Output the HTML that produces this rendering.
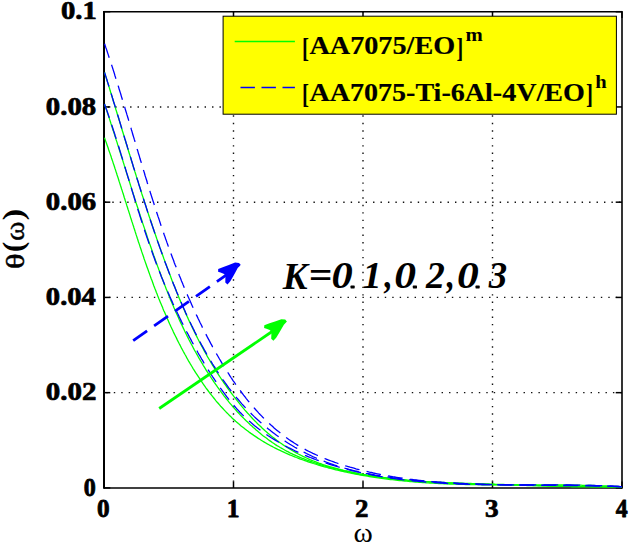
<!DOCTYPE html>
<html><head><meta charset="utf-8"><style>
html,body{margin:0;padding:0;background:#fff;}
svg{display:block;font-family:"Liberation Serif",serif;}
</style></head><body>
<svg width="629" height="545" viewBox="0 0 629 545">
<rect width="629" height="545" fill="#fff"/>
<g stroke="#111" stroke-width="1.4" stroke-dasharray="1.4 6.05"><line x1="233.50" y1="487.90" x2="233.50" y2="11.70" stroke-dashoffset="1.35"/><line x1="363.00" y1="487.90" x2="363.00" y2="11.70" stroke-dashoffset="1.35"/><line x1="492.50" y1="487.90" x2="492.50" y2="11.70" stroke-dashoffset="1.35"/><line x1="104.00" y1="392.66" x2="622.00" y2="392.66" stroke-dashoffset="5.10"/><line x1="104.00" y1="297.42" x2="622.00" y2="297.42" stroke-dashoffset="2.30"/><line x1="104.00" y1="202.18" x2="622.00" y2="202.18" stroke-dashoffset="6.60"/><line x1="104.00" y1="106.94" x2="622.00" y2="106.94" stroke-dashoffset="3.70"/></g>
<g stroke="#000"><line x1="104.0" y1="10.899999999999999" x2="104.0" y2="488.7" stroke-width="2"/><line x1="622.0" y1="10.899999999999999" x2="622.0" y2="488.7" stroke-width="1.6"/><line x1="104.0" y1="11.7" x2="622.0" y2="11.7" stroke-width="1.5"/><line x1="104.0" y1="487.9" x2="622.0" y2="487.9" stroke-width="1.5"/><line x1="104.00" y1="487.9" x2="104.00" y2="481.59999999999997" stroke-width="1.5"/><line x1="104.00" y1="11.7" x2="104.00" y2="18.0" stroke-width="1.5"/><line x1="233.50" y1="487.9" x2="233.50" y2="481.59999999999997" stroke-width="1.5"/><line x1="233.50" y1="11.7" x2="233.50" y2="18.0" stroke-width="1.5"/><line x1="363.00" y1="487.9" x2="363.00" y2="481.59999999999997" stroke-width="1.5"/><line x1="363.00" y1="11.7" x2="363.00" y2="18.0" stroke-width="1.5"/><line x1="492.50" y1="487.9" x2="492.50" y2="481.59999999999997" stroke-width="1.5"/><line x1="492.50" y1="11.7" x2="492.50" y2="18.0" stroke-width="1.5"/><line x1="622.00" y1="487.9" x2="622.00" y2="481.59999999999997" stroke-width="1.5"/><line x1="622.00" y1="11.7" x2="622.00" y2="18.0" stroke-width="1.5"/><line x1="104.0" y1="487.90" x2="110.3" y2="487.90" stroke-width="1.5"/><line x1="622.0" y1="487.90" x2="615.7" y2="487.90" stroke-width="1.5"/><line x1="104.0" y1="392.66" x2="110.3" y2="392.66" stroke-width="1.5"/><line x1="622.0" y1="392.66" x2="615.7" y2="392.66" stroke-width="1.5"/><line x1="104.0" y1="297.42" x2="110.3" y2="297.42" stroke-width="1.5"/><line x1="622.0" y1="297.42" x2="615.7" y2="297.42" stroke-width="1.5"/><line x1="104.0" y1="202.18" x2="110.3" y2="202.18" stroke-width="1.5"/><line x1="622.0" y1="202.18" x2="615.7" y2="202.18" stroke-width="1.5"/><line x1="104.0" y1="106.94" x2="110.3" y2="106.94" stroke-width="1.5"/><line x1="622.0" y1="106.94" x2="615.7" y2="106.94" stroke-width="1.5"/><line x1="104.0" y1="11.70" x2="110.3" y2="11.70" stroke-width="1.5"/><line x1="622.0" y1="11.70" x2="615.7" y2="11.70" stroke-width="1.5"/></g>
<g fill="none" stroke-width="1.3"><path d="M104.5,137.7 L105.1,139.4 L105.7,141.1 L106.3,142.8 L106.9,144.5 L107.5,146.2 L108.1,147.8 L108.6,149.5 L109.2,151.2 L109.8,152.9 L110.4,154.6 L111.0,156.3 L111.5,158.0 L112.1,159.7 L112.7,161.4 L113.2,163.1 L113.8,164.8 L114.4,166.5 L114.9,168.2 L115.5,169.9 L116.0,171.6 L116.6,173.3 L117.1,175.0 L117.7,176.7 L118.3,178.5 L118.8,180.2 L119.3,181.9 L119.9,183.6 L120.4,185.3 L121.0,187.0 L121.5,188.7 L122.1,190.4 L122.6,192.1 L123.2,193.8 L123.7,195.5 L124.2,197.2 L124.8,199.0 L125.3,200.7 L125.9,202.4 L126.4,204.1 L126.9,205.8 L127.5,207.5 L128.0,209.2 L128.6,210.9 L129.1,212.6 L129.7,214.4 L130.2,216.1 L130.7,217.8 L131.3,219.5 L131.8,221.2 L132.4,222.9 L132.9,224.6 L133.5,226.3 L134.0,228.0 L134.6,229.7 L135.1,231.4 L135.7,233.2 L136.2,234.9 L136.8,236.6 L137.3,238.3 L137.9,240.0 L138.4,241.7 L139.0,243.4 L139.6,245.1 L140.1,246.8 L140.7,248.5 L141.3,250.2 L141.8,251.9 L142.4,253.6 L143.0,255.3 L143.6,257.0 L144.1,258.7 L144.7,260.4 L145.3,262.1 L145.9,263.8 L146.5,265.5 L147.1,267.2 L147.7,268.8 L148.3,270.5 L148.9,272.2 L149.5,273.9 L150.1,275.6 L150.7,277.3 L151.3,279.0 L152.0,280.6 L152.6,282.3 L153.2,284.0 L153.8,285.7 L154.5,287.4 L155.1,289.0 L155.8,290.7 L156.4,292.4 L157.1,294.0 L157.7,295.7 L158.4,297.4 L159.0,299.0 L159.7,300.7 L160.4,302.4 L161.1,304.0 L161.8,305.7 L162.5,307.3 L163.1,309.0 L163.8,310.7 L164.6,312.3 L165.3,314.0 L166.0,315.6 L166.7,317.2 L167.4,318.9 L168.2,320.5 L168.9,322.2 L169.6,323.8 L170.4,325.4 L171.1,327.1 L171.9,328.7 L172.7,330.3 L173.4,332.0 L174.2,333.6 L175.0,335.2 L175.8,336.8 L176.6,338.4 L177.4,340.1 L178.2,341.7 L179.0,343.3 L179.9,344.9 L180.7,346.5 L181.5,348.1 L182.4,349.7 L183.2,351.3 L184.1,352.9 L185.0,354.5 L185.9,356.0 L186.7,357.6 L187.6,359.2 L188.5,360.8 L189.4,362.3 L190.3,363.9 L191.3,365.5 L192.2,367.0 L193.1,368.6 L194.1,370.1 L195.0,371.6 L196.0,373.2 L197.0,374.7 L198.0,376.2 L199.0,377.7 L200.0,379.2 L201.0,380.7 L202.0,382.2 L203.0,383.7 L204.0,385.1 L205.1,386.6 L206.1,388.1 L207.2,389.5 L208.3,391.0 L209.3,392.4 L210.4,393.8 L211.5,395.2 L212.7,396.6 L213.8,398.0 L214.9,399.4 L216.0,400.8 L217.2,402.2 L218.4,403.5 L219.5,404.8 L220.7,406.2 L221.9,407.5 L223.1,408.8 L224.3,410.1 L225.5,411.4 L226.8,412.7 L228.0,413.9 L229.3,415.2 L230.6,416.4 L231.8,417.7 L233.1,418.9 L234.4,420.1 L235.7,421.3 L237.1,422.4 L238.4,423.6 L239.8,424.7 L241.1,425.9 L242.5,427.0 L243.9,428.1 L245.3,429.2 L246.7,430.3 L248.1,431.3 L249.5,432.4 L250.9,433.4 L252.4,434.4 L253.8,435.4 L255.3,436.4 L256.8,437.4 L258.2,438.4 L259.7,439.3 L261.2,440.3 L262.8,441.2 L264.3,442.1 L265.8,443.0 L267.3,443.9 L268.9,444.7 L270.4,445.6 L272.0,446.4 L273.6,447.3 L275.2,448.1 L276.8,448.9 L278.3,449.7 L280.0,450.4 L281.6,451.2 L283.2,451.9 L284.8,452.7 L286.4,453.4 L288.1,454.1 L289.7,454.8 L291.4,455.5 L293.0,456.2 L294.7,456.8 L296.4,457.5 L298.0,458.1 L299.7,458.8 L301.4,459.4 L303.1,460.0 L304.8,460.6 L306.5,461.2 L308.2,461.8 L309.9,462.4 L311.6,462.9 L313.3,463.5 L315.0,464.0 L316.7,464.5 L318.5,465.1 L320.2,465.6 L321.9,466.1 L323.7,466.6 L325.4,467.0 L327.1,467.5 L328.9,468.0 L330.6,468.4 L332.4,468.9 L334.1,469.3 L335.9,469.8 L337.6,470.2 L339.4,470.6 L341.1,471.0 L342.9,471.4 L344.6,471.8 L346.4,472.2 L348.2,472.6 L349.9,472.9 L351.7,473.3 L353.4,473.6 L355.2,474.0 L357.0,474.3 L358.7,474.7 L360.5,475.0 L362.2,475.3 L364.0,475.6 L365.8,475.9 L367.5,476.2 L369.3,476.5 L371.1,476.8 L372.9,477.1 L374.6,477.4 L376.4,477.6 L378.2,477.9 L379.9,478.1 L381.7,478.4 L383.5,478.6 L385.3,478.9 L387.1,479.1 L388.8,479.3 L390.6,479.5 L392.4,479.7 L394.2,479.9 L395.9,480.1 L397.7,480.3 L399.5,480.5 L401.3,480.7 L403.1,480.9 L404.9,481.1 L406.6,481.2 L408.4,481.4 L410.2,481.6 L412.0,481.7 L413.8,481.9 L415.6,482.0 L417.4,482.2 L419.2,482.3 L420.9,482.4 L422.7,482.6 L424.5,482.7 L426.3,482.8 L428.1,482.9 L429.9,483.0 L431.7,483.1 L433.5,483.2 L435.3,483.3 L437.1,483.4 L438.9,483.5 L440.7,483.6 L442.4,483.7 L444.2,483.8 L446.0,483.8 L447.8,483.9 L449.6,484.0 L451.4,484.0 L453.2,484.1 L455.0,484.2 L456.8,484.2 L458.6,484.3 L460.4,484.3 L462.2,484.4 L464.0,484.4 L465.8,484.5 L467.6,484.5 L469.4,484.5 L471.2,484.6 L473.0,484.6 L474.8,484.6 L476.6,484.7 L478.4,484.7 L480.2,484.7 L482.0,484.8 L483.8,484.8 L485.6,484.8 L487.4,484.8 L489.2,484.8 L491.0,484.8 L492.8,484.9 L494.6,484.9 L496.4,484.9 L498.2,484.9 L500.0,484.9 L501.8,484.9 L503.6,484.9 L505.4,484.9 L507.2,484.9 L509.0,484.9 L510.8,484.9 L512.6,484.9 L514.4,484.9 L516.2,484.9 L518.0,484.9 L519.8,484.9 L521.6,484.9 L523.4,484.9 L525.2,484.9 L527.0,484.9 L528.8,484.9 L530.6,484.9 L532.4,484.9 L534.2,484.9 L536.0,484.9 L537.8,484.9 L539.6,484.9 L541.4,484.9 L543.2,484.9 L545.0,484.9 L546.8,484.9 L548.6,484.9 L550.4,484.9 L552.2,484.9 L554.0,485.0 L555.8,485.0 L557.6,485.0 L559.4,485.0 L561.2,485.0 L563.0,485.0 L564.8,485.0 L566.6,485.0 L568.4,485.1 L570.2,485.1 L572.0,485.1 L573.8,485.1 L575.6,485.1 L577.4,485.2 L579.2,485.2 L580.9,485.2 L582.7,485.3 L584.5,485.3 L586.3,485.3 L588.1,485.4 L589.9,485.4 L591.7,485.5 L593.5,485.5 L595.3,485.6 L597.0,485.6 L598.8,485.7 L600.6,485.7 L602.4,485.8 L604.2,485.9 L606.0,485.9 L607.8,486.0 L609.5,486.1 L611.3,486.2 L613.1,486.3 L614.9,486.3 L616.7,486.4 L618.4,486.5 L620.2,486.6 L622.0,486.7" stroke="#00ff00" /><path d="M104.5,104.0 L105.1,105.8 L105.7,107.5 L106.3,109.3 L106.9,111.1 L107.5,112.8 L108.0,114.6 L108.6,116.4 L109.2,118.1 L109.8,119.9 L110.4,121.7 L110.9,123.4 L111.5,125.2 L112.1,127.0 L112.6,128.7 L113.2,130.5 L113.8,132.3 L114.4,134.1 L114.9,135.8 L115.5,137.6 L116.0,139.4 L116.6,141.1 L117.2,142.9 L117.7,144.7 L118.3,146.4 L118.9,148.2 L119.4,150.0 L120.0,151.7 L120.5,153.5 L121.1,155.3 L121.6,157.0 L122.2,158.8 L122.8,160.6 L123.3,162.3 L123.9,164.1 L124.4,165.9 L125.0,167.7 L125.5,169.4 L126.1,171.2 L126.6,173.0 L127.2,174.7 L127.8,176.5 L128.3,178.3 L128.9,180.0 L129.4,181.8 L130.0,183.6 L130.5,185.3 L131.1,187.1 L131.7,188.9 L132.2,190.6 L132.8,192.4 L133.3,194.2 L133.9,195.9 L134.5,197.7 L135.0,199.4 L135.6,201.2 L136.1,203.0 L136.7,204.7 L137.3,206.5 L137.9,208.3 L138.4,210.0 L139.0,211.8 L139.6,213.6 L140.1,215.3 L140.7,217.1 L141.3,218.8 L141.9,220.6 L142.4,222.4 L143.0,224.1 L143.6,225.9 L144.2,227.6 L144.8,229.4 L145.4,231.2 L146.0,232.9 L146.6,234.7 L147.1,236.4 L147.7,238.2 L148.3,239.9 L148.9,241.7 L149.5,243.5 L150.2,245.2 L150.8,247.0 L151.4,248.7 L152.0,250.5 L152.6,252.2 L153.2,254.0 L153.8,255.7 L154.5,257.5 L155.1,259.2 L155.7,261.0 L156.3,262.7 L157.0,264.5 L157.6,266.2 L158.3,268.0 L158.9,269.7 L159.6,271.5 L160.2,273.2 L160.9,275.0 L161.5,276.7 L162.2,278.4 L162.8,280.2 L163.5,281.9 L164.2,283.7 L164.9,285.4 L165.5,287.1 L166.2,288.9 L166.9,290.6 L167.6,292.3 L168.3,294.1 L169.0,295.8 L169.7,297.5 L170.4,299.2 L171.1,300.9 L171.9,302.7 L172.6,304.4 L173.3,306.1 L174.0,307.8 L174.8,309.5 L175.5,311.2 L176.3,312.9 L177.0,314.6 L177.8,316.3 L178.6,318.0 L179.3,319.7 L180.1,321.4 L180.9,323.1 L181.7,324.8 L182.5,326.4 L183.3,328.1 L184.1,329.8 L184.9,331.5 L185.7,333.1 L186.5,334.8 L187.3,336.4 L188.2,338.1 L189.0,339.7 L189.9,341.4 L190.7,343.0 L191.6,344.7 L192.5,346.3 L193.3,347.9 L194.2,349.6 L195.1,351.2 L196.0,352.8 L196.9,354.4 L197.8,356.0 L198.7,357.6 L199.6,359.2 L200.6,360.8 L201.5,362.4 L202.5,364.0 L203.4,365.6 L204.4,367.2 L205.3,368.7 L206.3,370.3 L207.3,371.9 L208.3,373.4 L209.3,375.0 L210.3,376.5 L211.3,378.0 L212.4,379.6 L213.4,381.1 L214.4,382.6 L215.5,384.1 L216.6,385.7 L217.6,387.2 L218.7,388.7 L219.8,390.2 L220.9,391.6 L222.0,393.1 L223.1,394.6 L224.2,396.1 L225.4,397.5 L226.5,399.0 L227.7,400.4 L228.8,401.9 L230.0,403.3 L231.2,404.7 L232.4,406.1 L233.6,407.5 L234.8,408.9 L236.1,410.3 L237.3,411.7 L238.6,413.0 L239.8,414.4 L241.1,415.7 L242.4,417.0 L243.8,418.4 L245.1,419.7 L246.4,421.0 L247.8,422.3 L249.1,423.6 L250.5,424.9 L251.9,426.1 L253.3,427.4 L254.7,428.6 L256.1,429.9 L257.5,431.1 L258.9,432.3 L260.4,433.5 L261.8,434.7 L263.3,435.9 L264.8,437.0 L266.3,438.1 L267.8,439.3 L269.3,440.4 L270.8,441.4 L272.3,442.5 L273.9,443.5 L275.4,444.6 L277.0,445.6 L278.6,446.5 L280.2,447.5 L281.8,448.4 L283.4,449.3 L285.0,450.2 L286.6,451.1 L288.3,451.9 L289.9,452.8 L291.6,453.6 L293.2,454.4 L294.9,455.1 L296.6,455.9 L298.3,456.6 L300.0,457.3 L301.7,458.1 L303.4,458.7 L305.1,459.4 L306.9,460.1 L308.6,460.7 L310.3,461.3 L312.1,461.9 L313.8,462.5 L315.6,463.1 L317.3,463.7 L319.1,464.3 L320.9,464.8 L322.7,465.3 L324.4,465.8 L326.2,466.3 L328.0,466.8 L329.8,467.3 L331.6,467.8 L333.4,468.3 L335.2,468.7 L337.0,469.2 L338.8,469.6 L340.6,470.0 L342.4,470.4 L344.2,470.8 L346.0,471.2 L347.9,471.6 L349.7,472.0 L351.5,472.4 L353.3,472.7 L355.1,473.1 L356.9,473.4 L358.8,473.8 L360.6,474.1 L362.4,474.4 L364.2,474.7 L366.1,475.0 L367.9,475.3 L369.7,475.6 L371.6,475.9 L373.4,476.2 L375.2,476.5 L377.1,476.7 L378.9,477.0 L380.8,477.3 L382.6,477.5 L384.4,477.7 L386.3,478.0 L388.1,478.2 L390.0,478.4 L391.8,478.6 L393.7,478.8 L395.5,479.1 L397.3,479.2 L399.2,479.4 L401.0,479.6 L402.9,479.8 L404.7,480.0 L406.6,480.2 L408.5,480.3 L410.3,480.5 L412.2,480.6 L414.0,480.8 L415.9,480.9 L417.7,481.1 L419.6,481.2 L421.4,481.4 L423.3,481.5 L425.2,481.6 L427.0,481.7 L428.9,481.9 L430.7,482.0 L432.6,482.1 L434.5,482.2 L436.3,482.3 L438.2,482.4 L440.0,482.5 L441.9,482.6 L443.8,482.7 L445.6,482.8 L447.5,482.9 L449.3,483.0 L451.2,483.0 L453.1,483.1 L454.9,483.2 L456.8,483.3 L458.7,483.3 L460.5,483.4 L462.4,483.5 L464.2,483.6 L466.1,483.6 L468.0,483.7 L469.8,483.7 L471.7,483.8 L473.6,483.9 L475.4,483.9 L477.3,484.0 L479.1,484.0 L481.0,484.1 L482.9,484.2 L484.7,484.2 L486.6,484.3 L488.4,484.3 L490.3,484.4 L492.1,484.4 L494.0,484.5 L495.9,484.6 L497.7,484.6 L499.6,484.7 L501.4,484.7 L503.3,484.8 L505.1,484.8 L507.0,484.9 L508.8,484.9 L510.7,485.0 L512.5,485.0 L514.4,485.1 L516.3,485.2 L518.1,485.2 L520.0,485.3 L521.8,485.3 L523.7,485.4 L525.5,485.4 L527.4,485.5 L529.2,485.5 L531.1,485.6 L532.9,485.6 L534.8,485.7 L536.6,485.7 L538.5,485.8 L540.3,485.8 L542.2,485.8 L544.0,485.9 L545.9,485.9 L547.7,486.0 L549.6,486.0 L551.4,486.1 L553.3,486.1 L555.1,486.1 L557.0,486.2 L558.8,486.2 L560.7,486.3 L562.5,486.3 L564.4,486.3 L566.2,486.4 L568.1,486.4 L569.9,486.4 L571.8,486.5 L573.6,486.5 L575.5,486.5 L577.3,486.5 L579.2,486.6 L581.0,486.6 L582.9,486.6 L584.8,486.6 L586.6,486.7 L588.5,486.7 L590.3,486.7 L592.2,486.7 L594.0,486.7 L595.9,486.7 L597.8,486.7 L599.6,486.7 L601.5,486.7 L603.3,486.8 L605.2,486.8 L607.1,486.8 L608.9,486.8 L610.8,486.8 L612.7,486.8 L614.5,486.8 L616.4,486.8 L618.3,486.8 L620.1,486.8 L622.0,486.8" stroke="#00ff00" /><path d="M104.6,72.5 L105.1,74.3 L105.7,76.1 L106.3,78.0 L106.8,79.8 L107.4,81.6 L108.0,83.5 L108.5,85.3 L109.1,87.1 L109.7,89.0 L110.2,90.8 L110.8,92.7 L111.4,94.5 L111.9,96.3 L112.5,98.2 L113.0,100.0 L113.6,101.8 L114.2,103.7 L114.7,105.5 L115.3,107.3 L115.8,109.2 L116.4,111.0 L116.9,112.8 L117.5,114.7 L118.1,116.5 L118.6,118.3 L119.2,120.2 L119.7,122.0 L120.3,123.8 L120.8,125.7 L121.4,127.5 L121.9,129.3 L122.5,131.2 L123.1,133.0 L123.6,134.8 L124.2,136.7 L124.7,138.5 L125.3,140.3 L125.8,142.2 L126.4,144.0 L127.0,145.8 L127.5,147.7 L128.1,149.5 L128.6,151.3 L129.2,153.2 L129.8,155.0 L130.3,156.8 L130.9,158.6 L131.4,160.5 L132.0,162.3 L132.6,164.1 L133.1,166.0 L133.7,167.8 L134.3,169.6 L134.8,171.4 L135.4,173.3 L136.0,175.1 L136.5,176.9 L137.1,178.8 L137.7,180.6 L138.3,182.4 L138.8,184.2 L139.4,186.1 L140.0,187.9 L140.6,189.7 L141.2,191.5 L141.7,193.4 L142.3,195.2 L142.9,197.0 L143.5,198.8 L144.1,200.7 L144.7,202.5 L145.3,204.3 L145.9,206.1 L146.4,207.9 L147.0,209.8 L147.6,211.6 L148.2,213.4 L148.8,215.2 L149.4,217.0 L150.1,218.9 L150.7,220.7 L151.3,222.5 L151.9,224.3 L152.5,226.1 L153.1,228.0 L153.7,229.8 L154.3,231.6 L155.0,233.4 L155.6,235.2 L156.2,237.0 L156.8,238.8 L157.5,240.7 L158.1,242.5 L158.7,244.3 L159.4,246.1 L160.0,247.9 L160.7,249.7 L161.3,251.5 L162.0,253.3 L162.6,255.1 L163.3,256.9 L163.9,258.7 L164.6,260.6 L165.2,262.4 L165.9,264.2 L166.6,266.0 L167.3,267.8 L167.9,269.6 L168.6,271.4 L169.3,273.2 L170.0,275.0 L170.7,276.8 L171.3,278.6 L172.0,280.4 L172.7,282.2 L173.4,283.9 L174.2,285.7 L174.9,287.5 L175.6,289.3 L176.3,291.1 L177.0,292.9 L177.8,294.7 L178.5,296.4 L179.2,298.2 L180.0,300.0 L180.7,301.8 L181.5,303.5 L182.2,305.3 L183.0,307.1 L183.7,308.8 L184.5,310.6 L185.3,312.4 L186.1,314.1 L186.9,315.9 L187.7,317.6 L188.5,319.4 L189.3,321.1 L190.1,322.8 L190.9,324.6 L191.7,326.3 L192.5,328.0 L193.4,329.8 L194.2,331.5 L195.1,333.2 L195.9,334.9 L196.8,336.6 L197.6,338.3 L198.5,340.0 L199.4,341.7 L200.3,343.4 L201.2,345.1 L202.1,346.8 L203.0,348.5 L203.9,350.2 L204.8,351.9 L205.8,353.5 L206.7,355.2 L207.6,356.9 L208.6,358.5 L209.6,360.2 L210.5,361.8 L211.5,363.5 L212.5,365.1 L213.5,366.7 L214.5,368.4 L215.5,370.0 L216.5,371.6 L217.5,373.2 L218.6,374.8 L219.6,376.4 L220.7,378.0 L221.7,379.6 L222.8,381.2 L223.9,382.8 L225.0,384.3 L226.1,385.9 L227.2,387.5 L228.3,389.0 L229.4,390.6 L230.6,392.1 L231.7,393.6 L232.9,395.2 L234.0,396.7 L235.2,398.2 L236.4,399.7 L237.6,401.2 L238.8,402.7 L240.0,404.2 L241.2,405.7 L242.4,407.2 L243.7,408.6 L244.9,410.1 L246.2,411.5 L247.5,413.0 L248.8,414.4 L250.1,415.8 L251.4,417.3 L252.7,418.7 L254.0,420.1 L255.4,421.4 L256.7,422.8 L258.1,424.2 L259.5,425.5 L260.9,426.8 L262.3,428.2 L263.7,429.5 L265.1,430.8 L266.6,432.0 L268.0,433.3 L269.5,434.5 L271.0,435.8 L272.5,437.0 L274.0,438.1 L275.5,439.3 L277.0,440.5 L278.5,441.6 L280.1,442.7 L281.7,443.8 L283.2,444.9 L284.8,446.0 L286.4,447.0 L288.0,448.0 L289.7,449.0 L291.3,450.0 L292.9,451.0 L294.6,451.9 L296.3,452.9 L297.9,453.8 L299.6,454.7 L301.3,455.5 L303.0,456.4 L304.7,457.2 L306.5,458.0 L308.2,458.8 L310.0,459.6 L311.7,460.3 L313.5,461.0 L315.2,461.7 L317.0,462.4 L318.8,463.1 L320.6,463.7 L322.4,464.4 L324.2,465.0 L326.1,465.5 L327.9,466.1 L329.7,466.7 L331.6,467.2 L333.4,467.7 L335.2,468.2 L337.1,468.7 L338.9,469.2 L340.8,469.7 L342.7,470.1 L344.5,470.6 L346.4,471.0 L348.3,471.4 L350.1,471.8 L352.0,472.2 L353.9,472.6 L355.7,473.0 L357.6,473.4 L359.5,473.8 L361.4,474.1 L363.3,474.5 L365.1,474.8 L367.0,475.1 L368.9,475.4 L370.8,475.7 L372.7,476.0 L374.6,476.3 L376.5,476.6 L378.4,476.9 L380.3,477.2 L382.2,477.4 L384.1,477.7 L386.0,477.9 L387.9,478.2 L389.8,478.4 L391.7,478.6 L393.6,478.8 L395.5,479.1 L397.5,479.3 L399.4,479.5 L401.3,479.6 L403.2,479.8 L405.1,480.0 L407.0,480.2 L408.9,480.4 L410.9,480.5 L412.8,480.7 L414.7,480.8 L416.6,481.0 L418.6,481.1 L420.5,481.2 L422.4,481.4 L424.3,481.5 L426.3,481.6 L428.2,481.7 L430.1,481.9 L432.0,482.0 L434.0,482.1 L435.9,482.2 L437.8,482.3 L439.7,482.4 L441.7,482.5 L443.6,482.5 L445.5,482.6 L447.5,482.7 L449.4,482.8 L451.3,482.9 L453.2,482.9 L455.2,483.0 L457.1,483.1 L459.0,483.1 L461.0,483.2 L462.9,483.3 L464.8,483.3 L466.7,483.4 L468.7,483.5 L470.6,483.5 L472.5,483.6 L474.4,483.6 L476.4,483.7 L478.3,483.8 L480.2,483.8 L482.1,483.9 L484.1,483.9 L486.0,484.0 L487.9,484.0 L489.8,484.1 L491.7,484.1 L493.7,484.2 L495.6,484.3 L497.5,484.3 L499.4,484.4 L501.3,484.4 L503.2,484.5 L505.2,484.6 L507.1,484.6 L509.0,484.7 L510.9,484.7 L512.8,484.8 L514.7,484.9 L516.6,484.9 L518.5,485.0 L520.4,485.1 L522.4,485.1 L524.3,485.2 L526.2,485.2 L528.1,485.3 L530.0,485.4 L531.9,485.4 L533.8,485.5 L535.7,485.5 L537.6,485.6 L539.5,485.7 L541.4,485.7 L543.3,485.8 L545.2,485.8 L547.1,485.9 L549.1,485.9 L551.0,486.0 L552.9,486.0 L554.8,486.1 L556.7,486.1 L558.6,486.2 L560.5,486.2 L562.4,486.3 L564.3,486.3 L566.2,486.4 L568.1,486.4 L570.1,486.4 L572.0,486.5 L573.9,486.5 L575.8,486.6 L577.7,486.6 L579.6,486.6 L581.5,486.6 L583.5,486.7 L585.4,486.7 L587.3,486.7 L589.2,486.7 L591.1,486.8 L593.0,486.8 L595.0,486.8 L596.9,486.8 L598.8,486.8 L600.7,486.8 L602.7,486.8 L604.6,486.8 L606.5,486.8 L608.5,486.8 L610.4,486.8 L612.3,486.8 L614.2,486.8 L616.2,486.8 L618.1,486.8 L620.1,486.8 L622.0,486.8" stroke="#00ff00" /><path d="M104.5,104.0 L105.1,105.7 L105.7,107.5 L106.4,109.2 L107.0,110.9 L107.6,112.7 L108.2,114.4 L108.8,116.2 L109.4,117.9 L110.0,119.7 L110.5,121.4 L111.1,123.2 L111.7,124.9 L112.3,126.7 L112.9,128.4 L113.4,130.2 L114.0,131.9 L114.6,133.7 L115.1,135.5 L115.7,137.2 L116.3,139.0 L116.8,140.7 L117.4,142.5 L117.9,144.3 L118.5,146.0 L119.0,147.8 L119.6,149.6 L120.1,151.3 L120.7,153.1 L121.2,154.9 L121.8,156.7 L122.3,158.4 L122.9,160.2 L123.4,162.0 L124.0,163.8 L124.5,165.5 L125.0,167.3 L125.6,169.1 L126.1,170.9 L126.6,172.6 L127.2,174.4 L127.7,176.2 L128.3,178.0 L128.8,179.7 L129.3,181.5 L129.9,183.3 L130.4,185.1 L131.0,186.8 L131.5,188.6 L132.0,190.4 L132.6,192.2 L133.1,193.9 L133.7,195.7 L134.2,197.5 L134.7,199.3 L135.3,201.0 L135.8,202.8 L136.4,204.6 L136.9,206.4 L137.5,208.1 L138.0,209.9 L138.6,211.7 L139.2,213.4 L139.7,215.2 L140.3,217.0 L140.8,218.7 L141.4,220.5 L142.0,222.3 L142.5,224.0 L143.1,225.8 L143.7,227.6 L144.3,229.3 L144.8,231.1 L145.4,232.8 L146.0,234.6 L146.6,236.3 L147.2,238.1 L147.8,239.8 L148.4,241.6 L149.0,243.3 L149.6,245.1 L150.2,246.8 L150.8,248.6 L151.4,250.3 L152.1,252.0 L152.7,253.8 L153.3,255.5 L154.0,257.3 L154.6,259.0 L155.2,260.7 L155.9,262.4 L156.5,264.2 L157.2,265.9 L157.9,267.6 L158.5,269.3 L159.2,271.0 L159.9,272.7 L160.6,274.5 L161.2,276.2 L161.9,277.9 L162.6,279.6 L163.3,281.3 L164.0,283.0 L164.7,284.7 L165.4,286.4 L166.2,288.1 L166.9,289.8 L167.6,291.5 L168.3,293.1 L169.1,294.8 L169.8,296.5 L170.6,298.2 L171.3,299.9 L172.1,301.6 L172.8,303.2 L173.6,304.9 L174.4,306.6 L175.2,308.3 L175.9,309.9 L176.7,311.6 L177.5,313.3 L178.3,314.9 L179.1,316.6 L179.9,318.2 L180.7,319.9 L181.5,321.6 L182.4,323.2 L183.2,324.9 L184.0,326.5 L184.9,328.2 L185.7,329.8 L186.5,331.5 L187.4,333.1 L188.3,334.7 L189.1,336.4 L190.0,338.0 L190.9,339.6 L191.7,341.3 L192.6,342.9 L193.5,344.5 L194.4,346.2 L195.3,347.8 L196.2,349.4 L197.1,351.0 L198.0,352.7 L198.9,354.3 L199.9,355.9 L200.8,357.5 L201.7,359.1 L202.7,360.7 L203.6,362.3 L204.6,363.9 L205.6,365.5 L206.5,367.1 L207.5,368.7 L208.5,370.3 L209.5,371.9 L210.5,373.4 L211.5,375.0 L212.5,376.6 L213.6,378.1 L214.6,379.7 L215.6,381.2 L216.7,382.8 L217.8,384.3 L218.8,385.8 L219.9,387.4 L221.0,388.9 L222.1,390.4 L223.2,391.9 L224.3,393.4 L225.4,394.9 L226.5,396.4 L227.7,397.9 L228.8,399.3 L230.0,400.8 L231.2,402.2 L232.3,403.7 L233.5,405.1 L234.8,406.5 L236.0,407.9 L237.2,409.3 L238.5,410.6 L239.7,412.0 L241.0,413.3 L242.3,414.6 L243.6,415.9 L245.0,417.2 L246.3,418.5 L247.6,419.7 L249.0,420.9 L250.4,422.1 L251.8,423.3 L253.2,424.5 L254.6,425.7 L256.0,426.8 L257.5,428.0 L258.9,429.1 L260.4,430.2 L261.8,431.3 L263.3,432.3 L264.8,433.4 L266.3,434.4 L267.8,435.5 L269.4,436.5 L270.9,437.5 L272.5,438.5 L274.0,439.4 L275.6,440.4 L277.1,441.3 L278.7,442.3 L280.3,443.2 L281.9,444.1 L283.5,445.0 L285.2,445.9 L286.8,446.7 L288.4,447.6 L290.1,448.4 L291.7,449.2 L293.4,450.0 L295.0,450.8 L296.7,451.6 L298.4,452.4 L300.1,453.2 L301.8,453.9 L303.5,454.6 L305.2,455.4 L306.9,456.1 L308.6,456.8 L310.3,457.5 L312.0,458.1 L313.8,458.8 L315.5,459.5 L317.2,460.1 L319.0,460.7 L320.7,461.3 L322.5,462.0 L324.2,462.6 L326.0,463.1 L327.7,463.7 L329.5,464.3 L331.3,464.8 L333.1,465.4 L334.8,465.9 L336.6,466.4 L338.4,467.0 L340.2,467.5 L341.9,468.0 L343.7,468.5 L345.5,468.9 L347.3,469.4 L349.1,469.9 L350.9,470.3 L352.7,470.8 L354.5,471.2 L356.3,471.6 L358.1,472.0 L359.9,472.4 L361.7,472.8 L363.5,473.2 L365.3,473.6 L367.1,474.0 L368.9,474.3 L370.7,474.7 L372.5,475.0 L374.3,475.4 L376.1,475.7 L378.0,476.0 L379.8,476.3 L381.6,476.6 L383.4,476.9 L385.2,477.2 L387.1,477.5 L388.9,477.8 L390.7,478.1 L392.5,478.3 L394.4,478.6 L396.2,478.9 L398.0,479.1 L399.8,479.3 L401.7,479.6 L403.5,479.8 L405.3,480.0 L407.2,480.2 L409.0,480.4 L410.8,480.6 L412.7,480.8 L414.5,481.0 L416.4,481.2 L418.2,481.4 L420.1,481.5 L421.9,481.7 L423.7,481.9 L425.6,482.0 L427.4,482.2 L429.3,482.3 L431.1,482.4 L433.0,482.6 L434.8,482.7 L436.7,482.8 L438.5,482.9 L440.4,483.1 L442.2,483.2 L444.1,483.3 L445.9,483.4 L447.8,483.5 L449.6,483.6 L451.5,483.6 L453.4,483.7 L455.2,483.8 L457.1,483.9 L458.9,484.0 L460.8,484.0 L462.6,484.1 L464.5,484.2 L466.4,484.2 L468.2,484.3 L470.1,484.3 L471.9,484.4 L473.8,484.4 L475.7,484.5 L477.5,484.5 L479.4,484.5 L481.2,484.6 L483.1,484.6 L485.0,484.6 L486.8,484.7 L488.7,484.7 L490.6,484.7 L492.4,484.7 L494.3,484.8 L496.2,484.8 L498.0,484.8 L499.9,484.8 L501.7,484.8 L503.6,484.8 L505.5,484.8 L507.3,484.8 L509.2,484.9 L511.1,484.9 L512.9,484.9 L514.8,484.9 L516.7,484.9 L518.5,484.9 L520.4,484.9 L522.2,484.9 L524.1,484.9 L526.0,484.9 L527.8,484.9 L529.7,484.9 L531.6,484.9 L533.4,484.9 L535.3,484.9 L537.1,484.9 L539.0,484.9 L540.9,484.9 L542.7,484.9 L544.6,484.9 L546.4,484.9 L548.3,484.9 L550.2,484.9 L552.0,484.9 L553.9,484.9 L555.7,484.9 L557.6,484.9 L559.4,484.9 L561.3,485.0 L563.1,485.0 L565.0,485.0 L566.8,485.0 L568.7,485.0 L570.5,485.0 L572.4,485.1 L574.2,485.1 L576.1,485.1 L577.9,485.1 L579.8,485.2 L581.6,485.2 L583.5,485.2 L585.3,485.3 L587.2,485.3 L589.0,485.4 L590.9,485.4 L592.7,485.5 L594.5,485.5 L596.4,485.6 L598.2,485.6 L600.0,485.7 L601.9,485.7 L603.7,485.8 L605.5,485.9 L607.4,486.0 L609.2,486.0 L611.0,486.1 L612.9,486.2 L614.7,486.3 L616.5,486.4 L618.3,486.5 L620.2,486.6 L622.0,486.7" stroke="#0000ff" stroke-dasharray="14.7 7.3"/><path d="M104.6,72.5 L105.1,74.3 L105.7,76.1 L106.3,77.9 L106.9,79.8 L107.4,81.6 L108.0,83.4 L108.6,85.2 L109.1,87.1 L109.7,88.9 L110.3,90.7 L110.8,92.5 L111.4,94.4 L112.0,96.2 L112.5,98.0 L113.1,99.8 L113.6,101.7 L114.2,103.5 L114.8,105.3 L115.3,107.1 L115.9,109.0 L116.4,110.8 L117.0,112.6 L117.5,114.5 L118.1,116.3 L118.7,118.1 L119.2,119.9 L119.8,121.8 L120.3,123.6 L120.9,125.4 L121.4,127.3 L122.0,129.1 L122.5,130.9 L123.1,132.7 L123.6,134.6 L124.2,136.4 L124.7,138.2 L125.3,140.0 L125.9,141.9 L126.4,143.7 L127.0,145.5 L127.5,147.4 L128.1,149.2 L128.6,151.0 L129.2,152.8 L129.7,154.7 L130.3,156.5 L130.9,158.3 L131.4,160.1 L132.0,162.0 L132.5,163.8 L133.1,165.6 L133.6,167.5 L134.2,169.3 L134.8,171.1 L135.3,172.9 L135.9,174.7 L136.5,176.6 L137.0,178.4 L137.6,180.2 L138.2,182.0 L138.7,183.9 L139.3,185.7 L139.9,187.5 L140.4,189.3 L141.0,191.2 L141.6,193.0 L142.2,194.8 L142.8,196.6 L143.3,198.4 L143.9,200.2 L144.5,202.1 L145.1,203.9 L145.7,205.7 L146.3,207.5 L146.8,209.3 L147.4,211.1 L148.0,213.0 L148.6,214.8 L149.2,216.6 L149.8,218.4 L150.4,220.2 L151.0,222.0 L151.6,223.8 L152.2,225.6 L152.9,227.5 L153.5,229.3 L154.1,231.1 L154.7,232.9 L155.3,234.7 L155.9,236.5 L156.6,238.3 L157.2,240.1 L157.8,241.9 L158.5,243.7 L159.1,245.5 L159.7,247.3 L160.4,249.1 L161.0,250.9 L161.7,252.7 L162.3,254.5 L163.0,256.3 L163.6,258.1 L164.3,259.9 L164.9,261.7 L165.6,263.5 L166.3,265.3 L166.9,267.0 L167.6,268.8 L168.3,270.6 L169.0,272.4 L169.7,274.2 L170.3,276.0 L171.0,277.8 L171.7,279.5 L172.4,281.3 L173.1,283.1 L173.8,284.9 L174.6,286.6 L175.3,288.4 L176.0,290.2 L176.7,292.0 L177.5,293.7 L178.2,295.5 L178.9,297.3 L179.7,299.0 L180.4,300.8 L181.2,302.5 L182.0,304.3 L182.7,306.0 L183.5,307.8 L184.3,309.5 L185.1,311.3 L185.8,313.0 L186.6,314.8 L187.4,316.5 L188.2,318.3 L189.1,320.0 L189.9,321.7 L190.7,323.5 L191.5,325.2 L192.4,326.9 L193.2,328.6 L194.1,330.3 L194.9,332.1 L195.8,333.8 L196.7,335.5 L197.5,337.2 L198.4,338.9 L199.3,340.6 L200.2,342.3 L201.1,344.0 L202.0,345.7 L203.0,347.4 L203.9,349.0 L204.8,350.7 L205.8,352.4 L206.7,354.1 L207.7,355.7 L208.7,357.4 L209.7,359.0 L210.6,360.7 L211.6,362.3 L212.6,364.0 L213.6,365.6 L214.7,367.2 L215.7,368.9 L216.7,370.5 L217.8,372.1 L218.8,373.7 L219.9,375.3 L221.0,376.9 L222.1,378.5 L223.2,380.1 L224.3,381.6 L225.4,383.2 L226.5,384.7 L227.7,386.3 L228.8,387.8 L230.0,389.3 L231.1,390.9 L232.3,392.4 L233.5,393.9 L234.7,395.3 L235.9,396.8 L237.1,398.3 L238.4,399.8 L239.6,401.2 L240.8,402.6 L242.1,404.1 L243.4,405.5 L244.7,406.9 L246.0,408.3 L247.3,409.7 L248.6,411.0 L249.9,412.4 L251.3,413.7 L252.7,415.1 L254.0,416.4 L255.4,417.7 L256.8,419.0 L258.2,420.3 L259.6,421.6 L261.0,422.8 L262.5,424.1 L263.9,425.3 L265.4,426.5 L266.8,427.7 L268.3,428.9 L269.8,430.1 L271.3,431.3 L272.8,432.4 L274.3,433.6 L275.8,434.7 L277.3,435.8 L278.9,436.9 L280.4,438.0 L282.0,439.1 L283.6,440.2 L285.2,441.2 L286.7,442.2 L288.3,443.3 L289.9,444.3 L291.6,445.3 L293.2,446.2 L294.8,447.2 L296.5,448.1 L298.1,449.1 L299.8,450.0 L301.4,450.9 L303.1,451.8 L304.8,452.6 L306.5,453.5 L308.2,454.3 L309.9,455.2 L311.6,456.0 L313.3,456.8 L315.0,457.5 L316.8,458.3 L318.5,459.0 L320.3,459.8 L322.0,460.5 L323.8,461.2 L325.6,461.9 L327.3,462.5 L329.1,463.2 L330.9,463.8 L332.7,464.4 L334.5,465.0 L336.3,465.6 L338.1,466.2 L340.0,466.8 L341.8,467.3 L343.6,467.8 L345.4,468.4 L347.3,468.9 L349.1,469.4 L351.0,469.8 L352.8,470.3 L354.7,470.8 L356.6,471.2 L358.4,471.6 L360.3,472.1 L362.2,472.5 L364.0,472.9 L365.9,473.3 L367.8,473.6 L369.7,474.0 L371.6,474.4 L373.5,474.7 L375.4,475.1 L377.3,475.4 L379.2,475.7 L381.1,476.0 L383.0,476.3 L384.9,476.6 L386.8,476.9 L388.7,477.2 L390.7,477.4 L392.6,477.7 L394.5,477.9 L396.4,478.2 L398.3,478.4 L400.3,478.6 L402.2,478.9 L404.1,479.1 L406.0,479.3 L408.0,479.5 L409.9,479.7 L411.8,479.9 L413.7,480.1 L415.7,480.3 L417.6,480.4 L419.5,480.6 L421.4,480.8 L423.3,480.9 L425.3,481.1 L427.2,481.3 L429.1,481.4 L431.0,481.5 L433.0,481.7 L434.9,481.8 L436.8,482.0 L438.7,482.1 L440.6,482.2 L442.5,482.3 L444.5,482.5 L446.4,482.6 L448.3,482.7 L450.2,482.8 L452.1,482.9 L454.0,483.0 L455.9,483.1 L457.9,483.2 L459.8,483.3 L461.7,483.4 L463.6,483.5 L465.5,483.6 L467.4,483.6 L469.3,483.7 L471.2,483.8 L473.1,483.9 L475.0,483.9 L477.0,484.0 L478.9,484.1 L480.8,484.1 L482.7,484.2 L484.6,484.3 L486.5,484.3 L488.4,484.4 L490.3,484.4 L492.2,484.5 L494.1,484.5 L496.0,484.6 L497.9,484.6 L499.8,484.7 L501.7,484.7 L503.7,484.7 L505.6,484.8 L507.5,484.8 L509.4,484.8 L511.3,484.9 L513.2,484.9 L515.1,484.9 L517.0,485.0 L518.9,485.0 L520.8,485.0 L522.7,485.1 L524.6,485.1 L526.5,485.1 L528.4,485.1 L530.3,485.2 L532.2,485.2 L534.1,485.2 L536.0,485.2 L537.9,485.2 L539.8,485.3 L541.7,485.3 L543.7,485.3 L545.6,485.3 L547.5,485.3 L549.4,485.4 L551.3,485.4 L553.2,485.4 L555.1,485.4 L557.0,485.4 L558.9,485.5 L560.8,485.5 L562.7,485.5 L564.6,485.5 L566.5,485.5 L568.4,485.6 L570.3,485.6 L572.2,485.6 L574.2,485.6 L576.1,485.7 L578.0,485.7 L579.9,485.7 L581.8,485.8 L583.7,485.8 L585.6,485.8 L587.5,485.8 L589.4,485.9 L591.3,485.9 L593.3,485.9 L595.2,486.0 L597.1,486.0 L599.0,486.1 L600.9,486.1 L602.8,486.2 L604.7,486.2 L606.7,486.2 L608.6,486.3 L610.5,486.4 L612.4,486.4 L614.3,486.5 L616.2,486.5 L618.2,486.6 L620.1,486.6 L622.0,486.7" stroke="#0000ff" stroke-dasharray="14.7 7.3"/><path d="M104.6,43.8 L105.2,45.6 L105.8,47.5 L106.5,49.4 L107.1,51.2 L107.7,53.1 L108.3,54.9 L108.9,56.8 L109.5,58.7 L110.2,60.5 L110.8,62.4 L111.4,64.3 L112.0,66.1 L112.6,68.0 L113.2,69.9 L113.8,71.7 L114.4,73.6 L114.9,75.5 L115.5,77.4 L116.1,79.2 L116.7,81.1 L117.3,83.0 L117.9,84.9 L118.5,86.7 L119.0,88.6 L119.6,90.5 L120.2,92.4 L120.8,94.3 L121.3,96.1 L121.9,98.0 L122.5,99.9 L123.1,101.8 L123.6,103.7 L124.2,105.5 L124.8,107.4 L125.3,109.3 L125.9,111.2 L126.5,113.1 L127.0,114.9 L127.6,116.8 L128.2,118.7 L128.7,120.6 L129.3,122.5 L129.8,124.4 L130.4,126.2 L131.0,128.1 L131.5,130.0 L132.1,131.9 L132.6,133.8 L133.2,135.7 L133.8,137.6 L134.3,139.4 L134.9,141.3 L135.4,143.2 L136.0,145.1 L136.6,147.0 L137.1,148.9 L137.7,150.7 L138.2,152.6 L138.8,154.5 L139.4,156.4 L139.9,158.3 L140.5,160.2 L141.1,162.0 L141.6,163.9 L142.2,165.8 L142.8,167.7 L143.3,169.6 L143.9,171.4 L144.5,173.3 L145.0,175.2 L145.6,177.1 L146.2,179.0 L146.8,180.8 L147.3,182.7 L147.9,184.6 L148.5,186.5 L149.1,188.4 L149.7,190.2 L150.2,192.1 L150.8,194.0 L151.4,195.9 L152.0,197.7 L152.6,199.6 L153.2,201.5 L153.8,203.3 L154.4,205.2 L155.0,207.1 L155.6,208.9 L156.2,210.8 L156.8,212.7 L157.4,214.5 L158.0,216.4 L158.7,218.3 L159.3,220.1 L159.9,222.0 L160.5,223.9 L161.1,225.7 L161.8,227.6 L162.4,229.4 L163.0,231.3 L163.7,233.2 L164.3,235.0 L165.0,236.9 L165.6,238.7 L166.3,240.6 L166.9,242.4 L167.6,244.3 L168.2,246.1 L168.9,248.0 L169.6,249.8 L170.2,251.6 L170.9,253.5 L171.6,255.3 L172.3,257.2 L173.0,259.0 L173.7,260.8 L174.3,262.7 L175.0,264.5 L175.8,266.3 L176.5,268.2 L177.2,270.0 L177.9,271.8 L178.6,273.6 L179.3,275.5 L180.1,277.3 L180.8,279.1 L181.5,280.9 L182.3,282.8 L183.0,284.6 L183.8,286.4 L184.5,288.2 L185.3,290.0 L186.1,291.8 L186.8,293.6 L187.6,295.4 L188.4,297.2 L189.2,299.0 L190.0,300.8 L190.8,302.6 L191.6,304.4 L192.4,306.2 L193.2,308.0 L194.0,309.8 L194.8,311.6 L195.7,313.4 L196.5,315.1 L197.4,316.9 L198.2,318.7 L199.1,320.5 L199.9,322.3 L200.8,324.0 L201.7,325.8 L202.5,327.6 L203.4,329.3 L204.3,331.1 L205.2,332.9 L206.1,334.6 L207.0,336.4 L207.9,338.1 L208.9,339.9 L209.8,341.6 L210.7,343.4 L211.7,345.1 L212.6,346.9 L213.6,348.6 L214.5,350.3 L215.5,352.1 L216.5,353.8 L217.5,355.5 L218.5,357.2 L219.5,359.0 L220.5,360.7 L221.5,362.4 L222.5,364.1 L223.6,365.8 L224.6,367.5 L225.7,369.2 L226.7,370.8 L227.8,372.5 L228.9,374.2 L229.9,375.8 L231.0,377.5 L232.1,379.1 L233.2,380.8 L234.4,382.4 L235.5,384.0 L236.6,385.6 L237.8,387.3 L238.9,388.9 L240.1,390.4 L241.3,392.0 L242.5,393.6 L243.6,395.2 L244.9,396.7 L246.1,398.3 L247.3,399.8 L248.5,401.3 L249.8,402.8 L251.0,404.3 L252.3,405.8 L253.6,407.3 L254.9,408.7 L256.2,410.2 L257.5,411.6 L258.8,413.1 L260.1,414.5 L261.5,415.9 L262.8,417.3 L264.2,418.7 L265.6,420.0 L267.0,421.4 L268.4,422.7 L269.8,424.0 L271.2,425.3 L272.7,426.6 L274.1,427.9 L275.6,429.2 L277.1,430.4 L278.5,431.6 L280.1,432.8 L281.6,434.0 L283.1,435.2 L284.6,436.4 L286.2,437.5 L287.8,438.7 L289.3,439.8 L290.9,440.9 L292.6,441.9 L294.2,443.0 L295.8,444.0 L297.5,445.1 L299.1,446.1 L300.8,447.0 L302.5,448.0 L304.2,448.9 L305.9,449.9 L307.7,450.8 L309.4,451.7 L311.2,452.5 L312.9,453.4 L314.7,454.2 L316.5,455.0 L318.3,455.8 L320.1,456.6 L321.9,457.4 L323.8,458.2 L325.6,458.9 L327.4,459.6 L329.3,460.3 L331.2,461.0 L333.0,461.7 L334.9,462.4 L336.8,463.0 L338.7,463.6 L340.6,464.3 L342.5,464.9 L344.4,465.5 L346.3,466.0 L348.2,466.6 L350.1,467.2 L352.0,467.7 L354.0,468.2 L355.9,468.8 L357.8,469.3 L359.7,469.8 L361.7,470.2 L363.6,470.7 L365.5,471.2 L367.5,471.6 L369.4,472.1 L371.3,472.5 L373.3,473.0 L375.2,473.4 L377.2,473.8 L379.1,474.2 L381.0,474.6 L383.0,474.9 L384.9,475.3 L386.8,475.7 L388.8,476.0 L390.7,476.3 L392.7,476.7 L394.6,477.0 L396.5,477.3 L398.5,477.6 L400.4,477.9 L402.4,478.2 L404.3,478.5 L406.3,478.8 L408.2,479.0 L410.2,479.3 L412.1,479.5 L414.0,479.8 L416.0,480.0 L417.9,480.3 L419.9,480.5 L421.8,480.7 L423.8,480.9 L425.7,481.1 L427.7,481.3 L429.6,481.5 L431.6,481.7 L433.5,481.8 L435.5,482.0 L437.4,482.2 L439.4,482.3 L441.3,482.5 L443.3,482.6 L445.2,482.8 L447.2,482.9 L449.2,483.0 L451.1,483.1 L453.1,483.3 L455.0,483.4 L457.0,483.5 L458.9,483.6 L460.9,483.7 L462.8,483.8 L464.8,483.9 L466.8,483.9 L468.7,484.0 L470.7,484.1 L472.6,484.2 L474.6,484.2 L476.5,484.3 L478.5,484.4 L480.5,484.4 L482.4,484.5 L484.4,484.5 L486.3,484.6 L488.3,484.6 L490.3,484.7 L492.2,484.7 L494.2,484.7 L496.1,484.8 L498.1,484.8 L500.1,484.8 L502.0,484.8 L504.0,484.9 L506.0,484.9 L507.9,484.9 L509.9,484.9 L511.8,484.9 L513.8,485.0 L515.8,485.0 L517.7,485.0 L519.7,485.0 L521.7,485.0 L523.6,485.0 L525.6,485.0 L527.6,485.0 L529.5,485.0 L531.5,485.0 L533.5,485.0 L535.4,485.0 L537.4,485.0 L539.4,485.1 L541.3,485.1 L543.3,485.1 L545.3,485.1 L547.2,485.1 L549.2,485.1 L551.2,485.1 L553.1,485.1 L555.1,485.1 L557.1,485.1 L559.0,485.1 L561.0,485.1 L563.0,485.1 L564.9,485.2 L566.9,485.2 L568.9,485.2 L570.8,485.2 L572.8,485.2 L574.8,485.3 L576.7,485.3 L578.7,485.3 L580.7,485.3 L582.6,485.4 L584.6,485.4 L586.6,485.4 L588.5,485.5 L590.5,485.5 L592.5,485.6 L594.4,485.6 L596.4,485.7 L598.4,485.7 L600.4,485.8 L602.3,485.9 L604.3,485.9 L606.3,486.0 L608.2,486.1 L610.2,486.1 L612.2,486.2 L614.1,486.3 L616.1,486.4 L618.1,486.5 L620.0,486.6 L622.0,486.7" stroke="#0000ff" stroke-dasharray="14.7 7.3"/></g>
<g><text transform="translate(83.84,495.60) scale(0.9619,1)" font-size="25.00" font-weight="bold" font-style="normal" fill="#000" stroke="#000" stroke-width="0.80" stroke-linejoin="round">0</text><text transform="translate(45.84,400.36) scale(1.1569,1)" font-size="25.00" font-weight="bold" font-style="normal" fill="#000" stroke="#000" stroke-width="0.69" stroke-linejoin="round">0.02</text><text transform="translate(45.86,305.12) scale(1.1432,1)" font-size="25.00" font-weight="bold" font-style="normal" fill="#000" stroke="#000" stroke-width="0.70" stroke-linejoin="round">0.04</text><text transform="translate(45.85,209.88) scale(1.1500,1)" font-size="25.00" font-weight="bold" font-style="normal" fill="#000" stroke="#000" stroke-width="0.70" stroke-linejoin="round">0.06</text><text transform="translate(45.85,114.64) scale(1.1500,1)" font-size="25.00" font-weight="bold" font-style="normal" fill="#000" stroke="#000" stroke-width="0.70" stroke-linejoin="round">0.08</text><text transform="translate(60.96,19.40) scale(1.1448,1)" font-size="25.00" font-weight="bold" font-style="normal" fill="#000" stroke="#000" stroke-width="0.70" stroke-linejoin="round">0.1</text><text transform="translate(97.09,517.10) scale(1.0095,1)" font-size="25.00" font-weight="bold" font-style="normal" fill="#000" stroke="#000" stroke-width="0.79" stroke-linejoin="round">0</text><text transform="translate(226.75,517.10) scale(1.0270,1)" font-size="25.00" font-weight="bold" font-style="normal" fill="#000" stroke="#000" stroke-width="0.78" stroke-linejoin="round">1</text><text transform="translate(355.02,516.85) scale(1.0762,1)" font-size="25.00" font-weight="bold" font-style="normal" fill="#000" stroke="#000" stroke-width="0.74" stroke-linejoin="round">2</text><text transform="translate(485.11,517.10) scale(1.0884,1)" font-size="25.00" font-weight="bold" font-style="normal" fill="#000" stroke="#000" stroke-width="0.74" stroke-linejoin="round">3</text><text transform="translate(615.66,516.85) scale(0.9532,1)" font-size="25.00" font-weight="bold" font-style="normal" fill="#000" stroke="#000" stroke-width="0.80" stroke-linejoin="round">4</text></g>
<line x1="133.2" y1="340.6" x2="226.1" y2="275.1" stroke="#0000ff" stroke-width="2.8" stroke-dasharray="17 8.6"/><path d="M240.7,264.8 L239.0,263.0 L235.1,262.6 L228.8,265.1 L223.4,266.9 L218.2,269.1 L218.1,271.8 L220.5,272.5 L223.6,273.7 L225.2,275.1 L225.4,277.0 L225.3,282.4 L227.5,284.4 L230.3,281.3 L233.1,276.4 L235.6,272.1 L237.7,268.1 L239.8,265.9 Z" fill="#0000ff"/>
<line x1="159.2" y1="408.5" x2="272.1" y2="331.5" stroke="#00ff00" stroke-width="2.8"/><path d="M286.9,321.4 L285.2,319.5 L281.3,319.2 L275.0,321.5 L269.5,323.2 L264.3,325.3 L264.1,328.1 L266.5,328.7 L269.7,330.0 L271.2,331.5 L271.4,333.4 L271.2,338.8 L273.4,340.8 L276.2,337.8 L279.1,332.9 L281.7,328.6 L283.9,324.7 L286.0,322.5 Z" fill="#00ff00"/>
<g><text transform="translate(282.67,288.60) scale(0.9678,1)" font-size="38.50" font-weight="bold" font-style="italic">K</text><text transform="translate(308.40,288.00) scale(1.0832,1)" font-size="38.50" font-weight="bold" font-style="italic">=</text><text transform="translate(331.43,288.00) scale(1.1025,1)" font-size="38.50" font-weight="bold" font-style="italic">0</text><rect x="350.5" y="285.6" width="4.2" height="2.8" rx="0.6" fill="#000"/><text transform="translate(362.53,288.00) scale(0.9979,1)" font-size="38.50" font-weight="bold" font-style="italic">1</text><text transform="translate(384.56,288.00) scale(0.8612,1)" font-size="38.50" font-weight="bold" font-style="italic">,</text><text transform="translate(394.19,288.00) scale(1.1313,1)" font-size="38.50" font-weight="bold" font-style="italic">0</text><rect x="412.8" y="285.6" width="4.2" height="2.8" rx="0.6" fill="#000"/><text transform="translate(425.88,288.00) scale(0.9807,1)" font-size="38.50" font-weight="bold" font-style="italic">2</text><text transform="translate(446.76,288.00) scale(0.8612,1)" font-size="38.50" font-weight="bold" font-style="italic">,</text><text transform="translate(456.99,288.00) scale(1.1313,1)" font-size="38.50" font-weight="bold" font-style="italic">0</text><rect x="475.5" y="285.6" width="4.2" height="2.8" rx="0.6" fill="#000"/><text transform="translate(488.67,288.00) scale(0.9541,1)" font-size="38.50" font-weight="bold" font-style="italic">3</text></g>
<g><rect x="223.1" y="16.2" width="393.3" height="98.0" fill="#ffff00" stroke="#000" stroke-width="1"/><line x1="234.7" y1="41.5" x2="294.9" y2="41.5" stroke="#00ff00" stroke-width="1.5"/><line x1="234.7" y1="87.5" x2="294.9" y2="87.5" stroke="#0000ff" stroke-width="1.3" stroke-dasharray="14.4 6.6" stroke-dashoffset="15.2"/><text transform="translate(302.04,57.19) scale(0.7664,1)" font-size="27.23" font-weight="bold" font-style="normal" fill="#000">[</text><text transform="translate(309.42,54.39) scale(1.1066,1)" font-size="25.50" font-weight="bold" font-style="normal" fill="#000" stroke="#000" stroke-width="0.18" stroke-linejoin="round">AA7075/EO</text><text transform="translate(456.40,57.19) scale(0.7345,1)" font-size="27.23" font-weight="bold" font-style="normal" fill="#000">]</text><text transform="translate(465.38,41.40) scale(1.0487,1)" font-size="19.79" font-weight="bold" font-style="normal" fill="#000">m</text><text transform="translate(302.04,103.19) scale(0.7664,1)" font-size="27.23" font-weight="bold" font-style="normal" fill="#000">[</text><text transform="translate(309.42,100.59) scale(1.1009,1)" font-size="25.50" font-weight="bold" font-style="normal" fill="#000" stroke="#000" stroke-width="0.18" stroke-linejoin="round">AA7075-Ti-6Al-4V/EO</text><text transform="translate(586.07,103.19) scale(0.7664,1)" font-size="27.23" font-weight="bold" font-style="normal" fill="#000">]</text><text transform="translate(595.19,87.70) scale(1.0596,1)" font-size="19.42" font-weight="bold" font-style="normal" fill="#000">h</text></g>
<text transform="translate(353.43,541.92) scale(1.0421,1)" font-size="28.12" font-weight="normal" font-style="normal" fill="#000">&#969;</text>
<text transform="translate(23.70,268.95) rotate(-90) scale(1.2749,1)" font-size="25.49" font-weight="normal" stroke="#000" stroke-width="0.50" stroke-linejoin="round">&#952;</text>
<text transform="translate(23.17,252.18) rotate(-90) scale(1.0761,1)" font-size="29.67" font-weight="bold">(</text>
<text transform="translate(23.74,240.98) rotate(-90) scale(1.1143,1)" font-size="26.46" font-weight="normal" stroke="#000" stroke-width="0.40" stroke-linejoin="round">&#969;</text>
<text transform="translate(23.17,220.34) rotate(-90) scale(1.1668,1)" font-size="29.67" font-weight="bold">)</text>
</svg>
</body></html>
